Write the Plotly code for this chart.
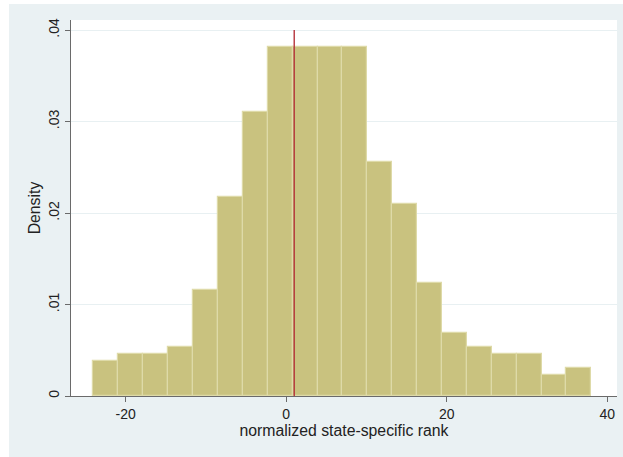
import plotly.graph_objects as go

# ---- data ----
bin_start = -24.0
bin_width = 3.1
density = [0.0038, 0.0046, 0.0046, 0.0054, 0.0116, 0.0217, 0.0310, 0.0381,
           0.0381, 0.0381, 0.0381, 0.0256, 0.0210, 0.0124, 0.0069, 0.0054,
           0.0046, 0.0046, 0.0023, 0.0031]
ref_x = 1.0
x_ticks = [-20, 0, 20, 40]
x_ticklabels = ["-20", "0", "20", "40"]
y_ticks = [0, 0.01, 0.02, 0.03, 0.04]
y_ticklabels = ["0", ".01", ".02", ".03", ".04"]

centers = [bin_start + bin_width * (i + 0.5) for i in range(len(density))]

W, H = 623, 457
ml, mr, mt, mb = 71, 6, 20, 61
pw, ph = W - ml - mr, H - mt - mb

BG = "#EAF1F3"
fig = go.Figure()
fig.add_trace(go.Bar(
    x=centers, y=density, width=[bin_width] * len(density),
    marker=dict(color="#C9C27F", line=dict(color="#DEDAA8", width=1.2)),
    showlegend=False, hoverinfo="skip"))
fig.add_trace(go.Scatter(
    x=[ref_x, ref_x], y=[0, max(y_ticks)], mode="lines",
    line=dict(color="#B5343C", width=1.4), showlegend=False, hoverinfo="skip"))

font = dict(family="Liberation Sans, Arial, sans-serif", size=13, color="#222222")
tfont = dict(family="Liberation Sans, Arial, sans-serif", size=14, color="#222222")
hfont = dict(family="Liberation Sans, Arial, sans-serif", size=15.8, color="#222222")

fig.update_layout(
    width=W, height=H, margin=dict(l=ml, r=mr, t=mt, b=mb),
    paper_bgcolor=BG, plot_bgcolor="white", font=font, bargap=0,
    xaxis=dict(range=[-26.8, 41.2], tickvals=x_ticks, ticktext=x_ticklabels,
               showgrid=False, zeroline=False, showline=True, linecolor="#6A6A6A",
               linewidth=1, ticks="outside", ticklen=5, tickcolor="#6A6A6A",
               title=dict(text="normalized state-specific rank", standoff=1, font=hfont),
               tickfont=tfont),
    yaxis=dict(range=[0, 0.0411], tickvals=y_ticks, ticktext=y_ticklabels,
               tickangle=-90, showgrid=True, gridcolor="#E8F0F2", gridwidth=1,
               zeroline=False, showline=True, linecolor="#6A6A6A", linewidth=1,
               ticks="outside", ticklen=5, tickcolor="#6A6A6A",
               title=dict(text="Density", standoff=1, font=hfont), tickfont=tfont),
    shapes=[
        dict(type="rect", xref="paper", yref="paper", layer="below",
             x0=-ml / pw, x1=(9 - ml) / pw, y0=-mb / ph, y1=1 + mt / ph,
             fillcolor="white", line=dict(width=0)),
        dict(type="rect", xref="paper", yref="paper", layer="below",
             x0=-ml / pw, x1=1 + mr / pw, y0=1 + (mt - 4) / ph, y1=1 + mt / ph,
             fillcolor="white", line=dict(width=0)),
    ],
)

fig.write_html("out.html")
